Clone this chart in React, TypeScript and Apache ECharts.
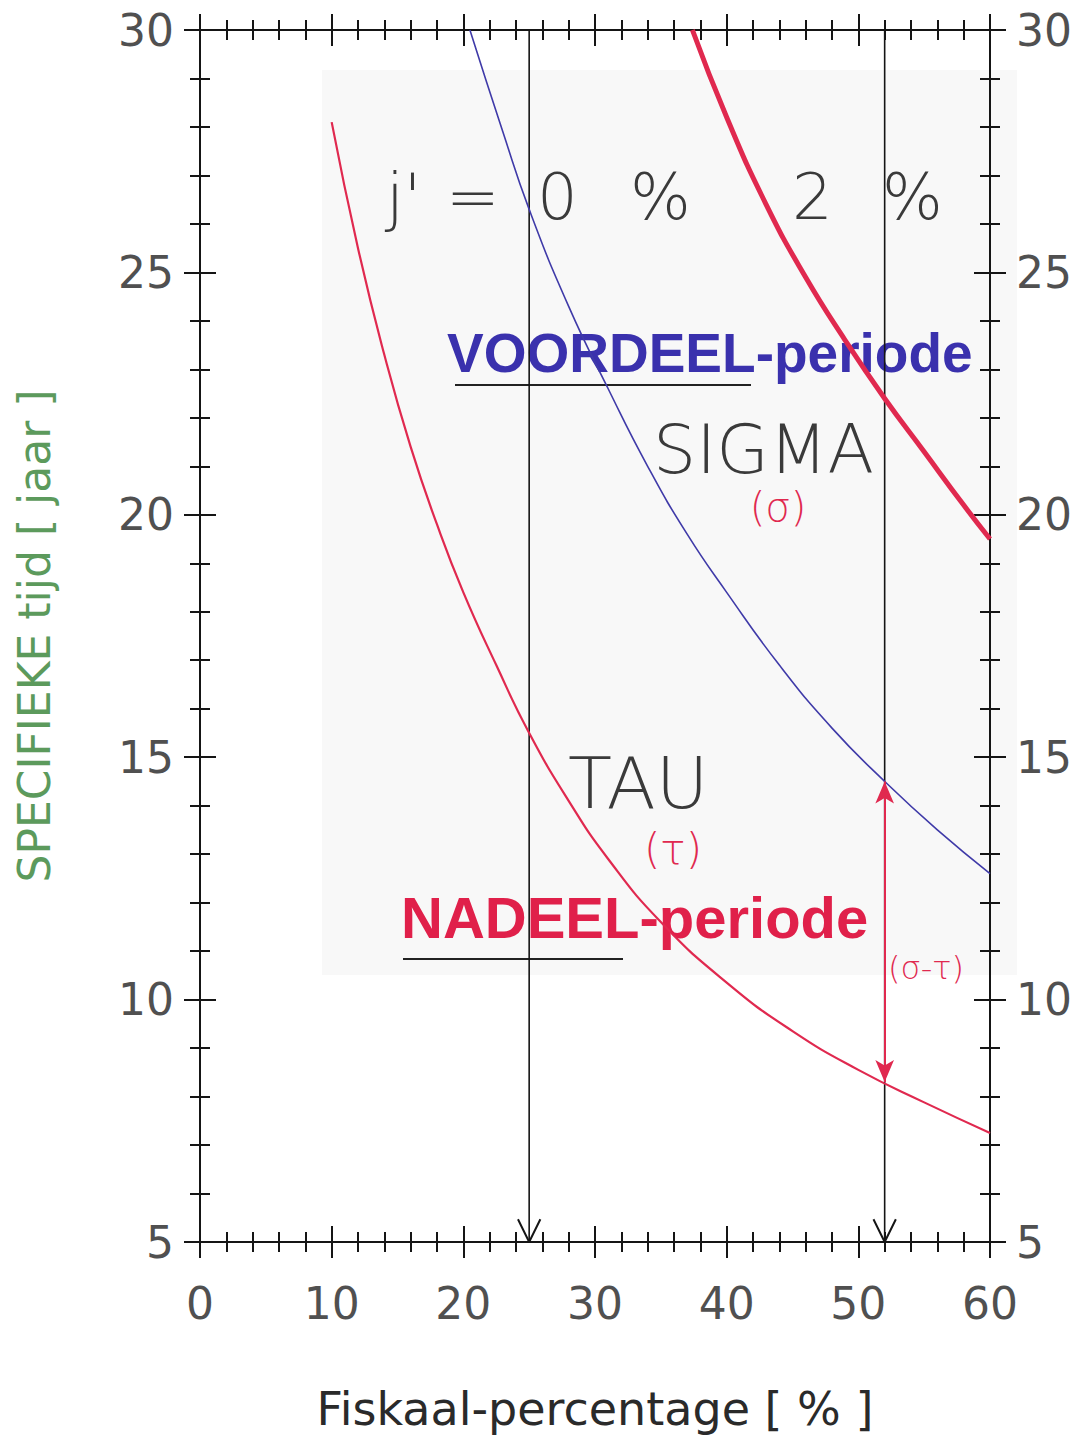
import React, { useEffect, useRef } from "react";
import * as echarts from "echarts";

// ---------- data ----------
const xTickValues = [0, 10, 20, 30, 40, 50, 60];
const yTickValues = [5, 10, 15, 20, 25, 30];

// TAU curve (j = 0 %), thin red
const tauX = [10, 12, 14, 16, 18, 20, 22.5, 25, 28, 31, 35, 40, 45, 50, 55, 60];
const tauY = [28.1, 25.5, 23.3, 21.4, 19.8, 18.4, 16.9, 15.5, 14.1, 12.9, 11.6, 10.35, 9.35, 8.55, 7.88, 7.25];

// SIGMA curve (j = 0 %), thin blue
const sigmaX = [20.5, 23, 25, 28, 31, 34, 37, 40, 44, 48, 52, 56, 60];
const sigmaY = [30, 27.9, 26.3, 24.3, 22.6, 21.0, 19.6, 18.4, 16.9, 15.6, 14.5, 13.5, 12.6];

// SIGMA curve (j = 2 %), thick red
const sigma2X = [37.4, 40, 43, 46, 49, 52, 55, 58, 60];
const sigma2Y = [30, 28.2, 26.4, 24.9, 23.6, 22.4, 21.3, 20.2, 19.5];

// vertical guide lines (fiskaal-percentage)
const guideX = [25, 52];
const guideYRange = [30, 5];
// (sigma - tau) difference arrow at x = 52
const diffX = 52;
const diffSigma = 14.5;
const diffTau = 8.3;
// open arrow head size in data units
const arrowHalfW = 0.85;
const arrowH = 0.47;

const RED = "#e0294f";
const BLUE = "#3f3aa8";
const AX = "#151515";
const LABEL = { fontFamily: "DejaVu Sans", fontSize: 44, color: "#505050" };

function xAxisDef(position: string, inside: boolean, showLabel: boolean) {
  return {
    type: "value",
    position,
    min: xTickValues[0],
    max: xTickValues[xTickValues.length - 1],
    interval: xTickValues[1] - xTickValues[0],
    axisLine: { show: true, onZero: false, lineStyle: { color: AX, width: 2 } },
    axisTick: { show: true, inside, length: 16, lineStyle: { color: AX, width: 2 } },
    minorTick: { show: true, splitNumber: 5, length: 10, lineStyle: { color: AX, width: 2 } },
    axisLabel: { show: showLabel, margin: 39, ...LABEL },
    splitLine: { show: false },
    minorSplitLine: { show: false },
  };
}

function yAxisDef(position: string, inside: boolean, showLabel: boolean) {
  return {
    type: "value",
    position,
    min: yTickValues[0],
    max: yTickValues[yTickValues.length - 1],
    interval: yTickValues[1] - yTickValues[0],
    axisLine: { show: true, onZero: false, lineStyle: { color: AX, width: 2 } },
    axisTick: { show: true, inside, length: 16, lineStyle: { color: AX, width: 2 } },
    minorTick: { show: true, splitNumber: 5, length: 10, lineStyle: { color: AX, width: 2 } },
    axisLabel: { show: showLabel, margin: 26, ...LABEL },
    splitLine: { show: false },
    minorSplitLine: { show: false },
  };
}

const zip = (xs: number[], ys: number[]) => xs.map((x, i) => [x, ys[i]]);

export default function App() {
  const ref = useRef<HTMLDivElement>(null);
  useEffect(() => {
    document.body.style.margin = "0";
    const chart = echarts.init(ref.current!, null, { renderer: "svg" });

    const guideSeries: any[] = [];
    guideX.forEach((gx) => {
      guideSeries.push({
        type: "line",
        data: [[gx, guideYRange[0]], [gx, guideYRange[1]]],
        showSymbol: false,
        lineStyle: { color: AX, width: 1.6 },
        z: 1,
        silent: true,
      });
      guideSeries.push({
        type: "line",
        data: [
          [gx - arrowHalfW, guideYRange[1] + arrowH],
          [gx, guideYRange[1]],
          [gx + arrowHalfW, guideYRange[1] + arrowH],
        ],
        showSymbol: false,
        lineStyle: { color: AX, width: 2 },
        z: 1,
        silent: true,
      });
    });

    const thin = { fontFamily: "DejaVu Sans", fontWeight: 200, fill: "#3a3a3a" };
    const hand = { fontFamily: "DejaVu Sans", fontWeight: 200, fill: RED, textAlign: "center", textVerticalAlign: "middle" };

    const curve = (name: string, xs: number[], ys: number[], color: string, width: number) => ({
      type: "line",
      name,
      data: zip(xs, ys),
      smooth: 0.5,
      showSymbol: false,
      lineStyle: { color, width },
      z: 3,
    });

    const option: any = {
      animation: false,
      backgroundColor: "#ffffff",
      grid: { left: 200, top: 30, width: 790, height: 1215, containLabel: false },
      xAxis: [
        {
          ...xAxisDef("bottom", false, true),
          name: "Fiskaal-percentage [ % ]",
          nameLocation: "middle",
          nameGap: 144,
          nameTextStyle: { fontFamily: "DejaVu Sans", fontSize: 46, color: "#2a2a2a" },
        },
        xAxisDef("bottom", true, false),
        xAxisDef("top", false, false),
        xAxisDef("top", true, false),
      ],
      yAxis: [
        {
          ...yAxisDef("left", false, true),
          name: "SPECIFIEKE tijd [ jaar ]",
          nameLocation: "middle",
          nameRotate: 90,
          nameGap: 144,
          nameTextStyle: { fontFamily: "DejaVu Sans", fontSize: 44, color: "#5c9a5c" },
        },
        yAxisDef("left", true, false),
        yAxisDef("right", false, true),
        yAxisDef("right", true, false),
      ],
      graphic: [
        { type: "rect", z: -10, silent: true, shape: { x: 322, y: 70, width: 695, height: 905 }, style: { fill: "#f8f8f8" } },
        // j' = 0 %   2 %
        { type: "text", x: 386, y: 197, style: { text: "j'", fontSize: 64, textVerticalAlign: "middle", ...thin } },
        { type: "text", x: 446, y: 197, style: { text: "=", fontSize: 64, textVerticalAlign: "middle", ...thin } },
        { type: "text", x: 537, y: 197, style: { text: "0", fontSize: 64, textVerticalAlign: "middle", ...thin } },
        { type: "text", x: 630, y: 197, style: { text: "%", fontSize: 64, textVerticalAlign: "middle", ...thin } },
        { type: "text", x: 792, y: 197, style: { text: "2", fontSize: 64, textVerticalAlign: "middle", ...thin } },
        { type: "text", x: 882, y: 197, style: { text: "%", fontSize: 64, textVerticalAlign: "middle", ...thin } },
        // VOORDEEL-periode
        { type: "text", x: 447, y: 353, style: { text: "VOORDEEL-periode", fontFamily: "Liberation Sans", fontWeight: "bold", fontSize: 55, fill: "#3a31ad", textVerticalAlign: "middle" } },
        { type: "line", shape: { x1: 455, y1: 385, x2: 751, y2: 385 }, style: { stroke: "#222", lineWidth: 2 } },
        // SIGMA
        { type: "text", x: 653, y: 449, style: { text: "SIGMA", fontSize: 68, textVerticalAlign: "middle", ...thin } },
        { type: "text", x: 778, y: 507, style: { text: "(σ)", fontSize: 40, ...hand } },
        // TAU
        { type: "text", x: 568, y: 783, style: { text: "TAU", fontSize: 72, textVerticalAlign: "middle", ...thin } },
        { type: "text", x: 673, y: 849, style: { text: "(τ)", fontSize: 42, ...hand } },
        // NADEEL-periode
        { type: "text", x: 401, y: 917, style: { text: "NADEEL-periode", fontFamily: "Liberation Sans", fontWeight: "bold", fontSize: 58, fill: "#e0204a", textVerticalAlign: "middle" } },
        { type: "line", shape: { x1: 403, y1: 959, x2: 623, y2: 959 }, style: { stroke: "#222", lineWidth: 2 } },
        // (sigma - tau)
        { type: "text", x: 926, y: 968, style: { text: "(σ-τ)", fontSize: 32, ...hand } },
      ],
      series: [
        ...guideSeries,
        curve("TAU", tauX, tauY, RED, 2.2),
        curve("SIGMA", sigmaX, sigmaY, BLUE, 1.6),
        curve("SIGMA 2%", sigma2X, sigma2Y, RED, 5),
        {
          type: "line",
          name: "diff",
          data: [],
          markLine: {
            silent: true,
            symbol: ["arrow", "arrow"],
            symbolSize: [14, 22],
            label: { show: false },
            lineStyle: { color: RED, width: 2, type: "solid" },
            data: [[{ coord: [diffX, diffSigma] }, { coord: [diffX, diffTau] }]],
          },
        },
      ],
    };
    chart.setOption(option);
    return () => chart.dispose();
  }, []);
  return <div ref={ref} style={{ width: 1079, height: 1437 }} />;
}
